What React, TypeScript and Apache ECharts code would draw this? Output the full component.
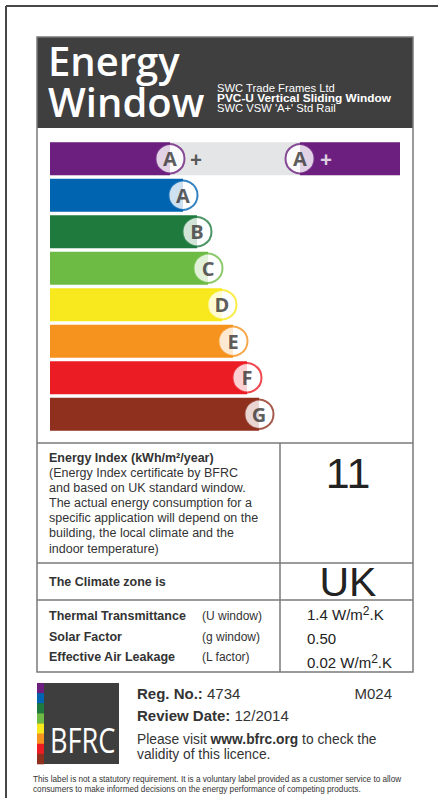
import React, { useEffect, useRef } from 'react';
import * as echarts from 'echarts';

// ---- data ----
const grades = ['A+', 'A', 'B', 'C', 'D', 'E', 'F', 'G'];
const gradeLetters = ['A', 'A', 'B', 'C', 'D', 'E', 'F', 'G'];
const barLengths = [120, 133, 147, 158, 172, 183, 197, 209];
const gradeColors = ['#6c1f7e', '#0064b1', '#1f7a3e', '#6dbb45', '#f7e91d', '#f6921e', '#ec1c24', '#8f301e'];
const scaleMax = 350;
const ratedGrade = 'A+';
const ratingPosition = 250;

const headerTitle = ['Energy', 'Window'];
const headerLines = ['SWC Trade Frames Ltd', 'PVC-U Vertical Sliding Window', "SWC VSW 'A+' Std Rail"];
const energyIndexLabel = 'Energy Index (kWh/m²/year)';
const energyIndexNote = [
  '(Energy Index certificate by BFRC',
  'and based on UK standard window.',
  'The actual energy consumption for a',
  'specific application will depend on the',
  'building, the local climate and the',
  'indoor temperature)',
];
const energyIndexValue = '11';
const climateLabel = 'The Climate zone is';
const climateValue = 'UK';
const propertyNames = ['Thermal Transmittance', 'Solar Factor', 'Effective Air Leakage'];
const propertySymbols = ['(U window)', '(g window)', '(L factor)'];
const propertyValues = ['1.4', '0.50', '0.02'];
const propertyHasUnit = [true, false, true];
const regNo = '4734';
const reviewDate = '12/2014';
const modelCode = 'M024';
const footnote = [
  'This label is not a statutory requirement. It is a voluntary label provided as a customer service to allow',
  'consumers to make informed decisions on the energy performance of competing products.',
];

const SANS = '"Liberation Sans", Arial, sans-serif';
const OPEN = '"Open Sans", sans-serif';
const INK = '#333333';
const BOXLINE = '#7a7a7a';

export default function App() {
  const ref = useRef<HTMLDivElement>(null);
  useEffect(() => {
    if (!ref.current) return;
    const chart = echarts.init(ref.current, undefined, { renderer: 'svg' });
    const ratedIdx = grades.indexOf(ratedGrade);
    const only = (v: number) => grades.map((g, i) => (i === ratedIdx ? v : '-'));

    const graphic: any[] = [];
    // outer frame
    graphic.push({ type: 'line', shape: { x1: 6, y1: 6, x2: 438, y2: 6 }, style: { stroke: '#474747', lineWidth: 2 } });
    graphic.push({ type: 'line', shape: { x1: 6, y1: 6, x2: 6, y2: 798 }, style: { stroke: '#474747', lineWidth: 2 } });
    // header
    graphic.push({ type: 'rect', shape: { x: 37, y: 37, width: 376, height: 91 }, style: { fill: '#3f3f3f' } });
    // box
    graphic.push({ type: 'rect', shape: { x: 37, y: 37, width: 376, height: 635 }, style: { fill: 'none', stroke: BOXLINE, lineWidth: 1.5 }, z: 10 });
    graphic.push({ type: 'line', shape: { x1: 37, y1: 443, x2: 413, y2: 443 }, style: { stroke: BOXLINE, lineWidth: 1.5 } });
    graphic.push({ type: 'line', shape: { x1: 37, y1: 563, x2: 413, y2: 563 }, style: { stroke: BOXLINE, lineWidth: 1.5 } });
    graphic.push({ type: 'line', shape: { x1: 37, y1: 600, x2: 413, y2: 600 }, style: { stroke: BOXLINE, lineWidth: 1.5 } });
    graphic.push({ type: 'line', shape: { x1: 280, y1: 443, x2: 280, y2: 672 }, style: { stroke: BOXLINE, lineWidth: 1.5 } });

    // header title (two lines)
    graphic.push({
      type: 'text', x: 48, y: 80.5,
      style: { text: headerTitle.join('\n'), fill: '#ffffff', font: `600 40px ${OPEN}`, lineHeight: 41, textAlign: 'left', textVerticalAlign: 'middle' },
    });
    headerLines.forEach((t, i) => {
      graphic.push({
        type: 'text', x: 217, y: 88.5 + i * 10, scaleX: i === 1 ? 1.08 : 1.04,
        style: { text: t, fill: '#ffffff', font: `${i === 1 ? 'bold 11px' : '10.8px'} ${SANS}`, textAlign: 'left', textVerticalAlign: 'middle' },
      });
    });

    // energy index
    graphic.push({ type: 'text', x: 49, y: 458, style: { text: energyIndexLabel, fill: INK, font: `bold 12.5px ${SANS}`, textVerticalAlign: 'middle' } });
    energyIndexNote.forEach((t, i) => {
      graphic.push({ type: 'text', x: 49, y: 473 + i * 15.1, style: { text: t, fill: INK, font: `12.5px ${SANS}`, textVerticalAlign: 'middle' } });
    });
    graphic.push({ type: 'text', x: 348, y: 473, style: { text: energyIndexValue, fill: '#222', font: `43px ${SANS}`, textAlign: 'center', textVerticalAlign: 'middle' } });
    graphic.push({ type: 'text', x: 49, y: 582, style: { text: climateLabel, fill: INK, font: `bold 12.5px ${SANS}`, textVerticalAlign: 'middle' } });
    graphic.push({ type: 'text', x: 348, y: 582, style: { text: climateValue, fill: '#222', font: `41px ${SANS}`, textAlign: 'center', textVerticalAlign: 'middle' } });

    propertyNames.forEach((t, i) => {
      const y = 616 + i * 20.5;
      graphic.push({ type: 'text', x: 49, y, style: { text: t, fill: INK, font: `bold 12.5px ${SANS}`, textVerticalAlign: 'middle' } });
      graphic.push({ type: 'text', x: 202, y, style: { text: propertySymbols[i], fill: INK, font: `12px ${SANS}`, textVerticalAlign: 'middle' } });
      const vy = 614 + i * 24;
      graphic.push({
        type: 'text', x: 307, y: vy,
        style: {
          text: propertyHasUnit[i] ? `{n|${propertyValues[i]} W/m}{s|2}{n|.K}` : `{n|${propertyValues[i]}}`,
          fill: '#222', textVerticalAlign: 'middle',
          rich: {
            n: { fontFamily: SANS, fontSize: 15, lineHeight: 18, fill: '#222' },
            s: { fontFamily: SANS, fontSize: 12, lineHeight: 8, verticalAlign: 'top', fill: '#222' },
          },
        },
      });
    });

    // BFRC logo
    graphic.push({ type: 'rect', shape: { x: 37, y: 683, width: 82, height: 81 }, style: { fill: '#3e3e3e' } });
    gradeColors.forEach((c, i) => {
      graphic.push({ type: 'rect', shape: { x: 37, y: 683 + i * (81 / 8), width: 7, height: 81 / 8 + 0.3 }, style: { fill: c } });
    });
    graphic.push({ type: 'text', x: 50, y: 740, scaleX: 0.8, style: { text: 'BFRC', fill: '#fff', font: `34px ${OPEN}`, textVerticalAlign: 'middle' } });

    graphic.push({
      type: 'text', x: 137, y: 693,
      style: { text: `{b|Reg. No.:}{r| ${regNo}}`, textVerticalAlign: 'middle', rich: { b: { fontFamily: SANS, fontWeight: 'bold', fontSize: 15, fill: INK }, r: { fontFamily: SANS, fontSize: 15, fill: INK } } },
    });
    graphic.push({ type: 'text', x: 392, y: 693, style: { text: modelCode, fill: INK, font: `15px ${SANS}`, textAlign: 'right', textVerticalAlign: 'middle' } });
    graphic.push({
      type: 'text', x: 137, y: 715,
      style: { text: `{b|Review Date:}{r| ${reviewDate}}`, textVerticalAlign: 'middle', rich: { b: { fontFamily: SANS, fontWeight: 'bold', fontSize: 15, fill: INK }, r: { fontFamily: SANS, fontSize: 15, fill: INK } } },
    });
    graphic.push({
      type: 'text', x: 137, y: 739,
      style: { text: `{r|Please visit }{b|www.bfrc.org}{r| to check the}`, textVerticalAlign: 'middle', rich: { b: { fontFamily: SANS, fontWeight: 'bold', fontSize: 13.8, fill: INK }, r: { fontFamily: SANS, fontSize: 13.8, fill: INK } } },
    });
    graphic.push({ type: 'text', x: 137, y: 754, style: { text: 'validity of this licence.', fill: INK, font: `13.8px ${SANS}`, textVerticalAlign: 'middle' } });
    footnote.forEach((t, i) => {
      graphic.push({ type: 'text', x: 33, y: 779 + i * 10, style: { text: t, fill: INK, font: `8.2px ${SANS}`, textVerticalAlign: 'middle' } });
    });

    const option: any = {
      animation: false,
      grid: { left: 50, right: 38, top: 140.5, height: 292, containLabel: false },
      xAxis: { type: 'value', min: 0, max: scaleMax, show: false },
      yAxis: { type: 'category', data: grades, inverse: true, show: false },
      graphic,
      series: [
        {
          type: 'bar', name: 'track', data: only(scaleMax), barWidth: 33, barGap: '-100%',
          itemStyle: { color: '#e4e5e6' }, z: 1, silent: true,
        },
        {
          type: 'bar', name: 'ratingBase', stack: 'rating', data: only(ratingPosition), barWidth: 33, barGap: '-100%',
          itemStyle: { color: 'rgba(0,0,0,0)' }, z: 2, silent: true,
        },
        {
          type: 'bar', name: 'rating', stack: 'rating', data: only(scaleMax - ratingPosition), barWidth: 33, barGap: '-100%',
          itemStyle: { color: gradeColors[ratedIdx] }, z: 2, silent: true,
        },
        {
          type: 'bar', name: 'grades', barWidth: 33, barGap: '-100%', z: 3,
          data: barLengths.map((v, i) => ({ value: v, itemStyle: { color: gradeColors[i] } })),
        },
        {
          type: 'scatter', name: 'gradeBadges', z: 5, symbol: 'circle', symbolSize: 29,
          data: barLengths.map((v, i) => ({
            value: [v, grades[i]],
            itemStyle: { color: '#ffffff', borderColor: gradeColors[i], borderWidth: 2 },
            label: { formatter: gradeLetters[i] },
          })),
          label: { show: true, position: 'inside', color: '#333', fontFamily: OPEN, fontWeight: 'bold', fontSize: 20 },
        },
        {
          type: 'scatter', name: 'ratingBadge', z: 5, symbol: 'circle', symbolSize: 29,
          data: [{
            value: [ratingPosition, ratedGrade],
            itemStyle: { color: '#ffffff', borderColor: gradeColors[ratedIdx], borderWidth: 2 },
          }],
          label: { show: true, position: 'inside', formatter: gradeLetters[ratedIdx], color: '#333', fontFamily: OPEN, fontWeight: 'bold', fontSize: 20 },
        },
        {
          type: 'scatter', name: 'plus', z: 6, symbolSize: 0,
          data: [
            { value: [barLengths[ratedIdx], ratedGrade], label: { color: '#333' } },
            { value: [ratingPosition, ratedGrade], label: { color: '#fff' } },
          ],
          label: { show: true, position: 'inside', formatter: '+', offset: [26, 0], fontFamily: OPEN, fontWeight: 'bold', fontSize: 21 },
        },
      ],
    };
    chart.setOption(option);
    return () => chart.dispose();
  }, []);
  return <div ref={ref} style={{ position: 'absolute', left: 0, top: 0, width: 438, height: 798, background: '#fff' }} />;
}
